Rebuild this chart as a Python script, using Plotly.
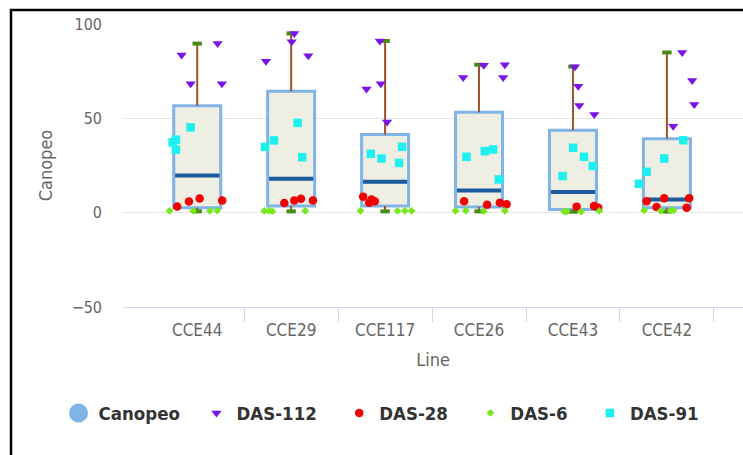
import plotly.graph_objects as go

# Categories (lines) on the x axis
categories = ["CCE44", "CCE29", "CCE117", "CCE26", "CCE43", "CCE42"]

# Canopeo box statistics per line
box_low = [0.7, 0.7, 0.7, 0.7, 0.5, 0.6]
box_q1 = [2.6, 3.5, 3.5, 3.0, 1.7, 2.6]
box_median = [19.7, 18.0, 16.4, 11.8, 10.9, 7.0]
box_q3 = [56.7, 64.3, 41.4, 53.2, 43.7, 39.2]
box_high = [89.6, 95.0, 91.0, 78.4, 77.4, 84.9]

# Individual observations by sampling date, with horizontal jitter within each line
das112 = [[83.6, 89.6, 68.3, 68.3], [80.2, 95.0, 90.6, 83.2], [91.0, 65.6, 68.3, 48.1],
          [71.7, 78.1, 78.4, 71.7], [77.4, 67.0, 56.8, 52.0], [84.9, 70.0, 57.3, 45.8]]
das112_jitter = [[-0.166, 0.217, -0.070, 0.263], [-0.268, 0.033, 0.005, 0.182], [-0.056, -0.198, -0.046, 0.021],
                 [-0.169, 0.051, 0.275, 0.257], [0.021, 0.056, 0.067, 0.227], [0.163, 0.269, 0.291, 0.067]]

das28 = [[3.3, 5.9, 7.5, 6.5], [5.1, 6.5, 7.4, 6.5], [8.5, 5.3, 6.0, 7.0],
         [6.0, 4.2, 5.3, 4.4], [3.2, 3.5, 2.6], [6.0, 7.6, 7.6, 3.0, 2.6]]
das28_jitter = [[-0.213, -0.088, 0.026, 0.266], [-0.073, 0.033, 0.104, 0.232], [-0.234, -0.170, -0.110, -0.145],
                [-0.159, 0.086, 0.222, 0.293], [0.039, 0.224, 0.269], [-0.216, -0.029, 0.237, -0.110, 0.210]]

das6 = [[1.0, 0.9, 1.0, 1.1], [0.9, 1.0, 0.8, 1.0], [1.0, 0.9, 1.0, 1.0],
        [1.0, 1.1, 0.8, 1.0], [0.6, 0.5, 0.9, 0.7], [1.2, 1.0, 1.1, 1.2]]
das6_jitter = [[-0.294, -0.043, 0.135, 0.213], [-0.286, -0.236, -0.201, 0.150], [-0.262, 0.132, 0.210, 0.281],
               [-0.250, -0.141, 0.051, 0.275], [-0.093, 0.085, 0.280, -0.067], [-0.242, -0.067, 0.039, 0.071]]

das91 = [[45.2, 38.7, 37.3, 33.4], [47.6, 38.3, 34.9, 29.4], [31.2, 28.7, 34.9, 26.4],
         [29.6, 32.6, 33.5, 17.6], [34.4, 29.6, 24.7, 19.4], [38.4, 28.7, 21.7, 15.3]]
das91_jitter = [[-0.070, -0.227, -0.262, -0.227], [0.069, -0.183, -0.279, 0.118], [-0.152, -0.038, 0.181, 0.149],
                [-0.133, 0.062, 0.150, 0.211], [0.003, 0.117, 0.210, -0.110], [0.174, -0.029, -0.216, -0.298]]

y_ticks = [-50, 0, 50, 100]

FONT = "DejaVu Sans Condensed, DejaVu Sans, sans-serif"
BOX_FILL = "#eeeee3"
BOX_LINE = "#80b4e6"
MEDIAN = "#1b5c9e"
WHISKER = "#a0522d"
CAP = "#478c16"
GRID = "#e6e6e6"
AXIS = "#ccd6eb"

pos = list(range(len(categories)))
half_box = 0.25
half_cap = 0.05

fig = go.Figure()

# Box bodies (whiskers drawn separately so they can carry their own colours)
fig.add_trace(go.Box(
    x=pos, q1=box_q1, median=box_median, q3=box_q3,
    lowerfence=box_q1, upperfence=box_q3,
    width=2 * half_box, fillcolor=BOX_FILL,
    line=dict(color=BOX_LINE, width=3),
    boxpoints=False, showlegend=False, hoverinfo="skip",
))

# Whisker stems
wx, wy = [], []
for i in pos:
    wx += [i, i, None, i, i, None]
    wy += [box_q3[i], box_high[i], None, box_q1[i], box_low[i], None]
fig.add_trace(go.Scatter(x=wx, y=wy, mode="lines", line=dict(color=WHISKER, width=2),
                         showlegend=False, hoverinfo="skip"))

# Whisker caps
cx, cy = [], []
for i in pos:
    cx += [i - half_cap, i + half_cap, None, i - half_cap, i + half_cap, None]
    cy += [box_high[i], box_high[i], None, box_low[i], box_low[i], None]
fig.add_trace(go.Scatter(x=cx, y=cy, mode="lines", line=dict(color=CAP, width=4),
                         showlegend=False, hoverinfo="skip"))

# Medians
mx, my = [], []
for i in pos:
    mx += [i - half_box + 0.015, i + half_box - 0.015, None]
    my += [box_median[i], box_median[i], None]
fig.add_trace(go.Scatter(x=mx, y=my, mode="lines", line=dict(color=MEDIAN, width=4),
                         showlegend=False, hoverinfo="skip"))


def flatten(values, jitter):
    xs, ys = [], []
    for i, (vals, offs) in enumerate(zip(values, jitter)):
        for v, o in zip(vals, offs):
            xs.append(i + o)
            ys.append(v)
    return xs, ys


series = [
    ("DAS-112", das112, das112_jitter, dict(symbol="triangle-down", size=9, color="#7a14e8")),
    ("DAS-28", das28, das28_jitter, dict(symbol="circle", size=8.5, color="#f00000")),
    ("DAS-6", das6, das6_jitter, dict(symbol="diamond", size=6, color="#78e81c")),
    ("DAS-91", das91, das91_jitter, dict(symbol="square", size=8.5, color="#1ef0f0")),
]

for name, vals, jit, mk in series:
    xs, ys = flatten(vals, jit)
    fig.add_trace(go.Scatter(x=xs, y=ys, mode="markers", name=name, marker=mk,
                             showlegend=False, hoverinfo="skip"))

# Legend entries
pad = "\u00a0\u00a0\u00a0"
fig.add_trace(go.Scatter(x=[None], y=[None], mode="markers", name="Canopeo" + "\u00a0\u00a0",
                         marker=dict(symbol="circle", size=16, color=BOX_LINE,
                                     line=dict(color=BOX_LINE, width=3)),
                         xaxis="x2"))
for k, (name, vals, jit, mk) in enumerate(series):
    label = name + (pad if k < len(series) - 1 else "")
    fig.add_trace(go.Scatter(x=[None], y=[None], mode="markers", name=label, marker=mk, xaxis="x2"))

x_range = [-0.79, 5.81]

fig.update_layout(
    width=743, height=455,
    margin=dict(l=123, r=0, t=24, b=148),
    paper_bgcolor="white", plot_bgcolor="white",
    font=dict(family=FONT, color="#666666"),
    xaxis=dict(
        range=x_range, tickvals=pos, ticktext=categories, ticks="",
        showgrid=False, zeroline=False, showline=True, linecolor=AXIS, linewidth=1,
        tickfont=dict(size=17, color="#666666"), ticklabelstandoff=8,
        title=dict(text="Line", font=dict(size=18, color="#666666"), standoff=13),
    ),
    xaxis2=dict(
        overlaying="x", anchor="y", side="bottom", range=x_range,
        tickvals=[p + 0.5 for p in pos], ticks="outside", ticklen=14, tickcolor=AXIS,
        showticklabels=False, showgrid=False, zeroline=False, showline=False,
    ),
    yaxis=dict(
        range=[-50, 100], tickvals=y_ticks, ticks="",
        showgrid=True, gridcolor=GRID, zeroline=False, showline=False,
        tickfont=dict(size=16, color="#666666"), ticklabelstandoff=20,
        title=dict(text="Canopeo", font=dict(size=18, color="#666666"), standoff=14),
    ),
    legend=dict(
        orientation="h", x=-0.104, xanchor="left", y=-0.376, yanchor="middle",
        font=dict(size=18.5, color="#333333", family=FONT, weight="bold"),
        bgcolor="rgba(0,0,0,0)",
    ),
    shapes=[dict(type="rect", xref="paper", yref="paper",
                 x0=(11 - 123) / 620, x1=1.05, y0=-0.6, y1=1 + 14 / 283,
                 line=dict(color="black", width=2.5), fillcolor="rgba(0,0,0,0)", layer="above")],
)

fig.write_html("out.html")
